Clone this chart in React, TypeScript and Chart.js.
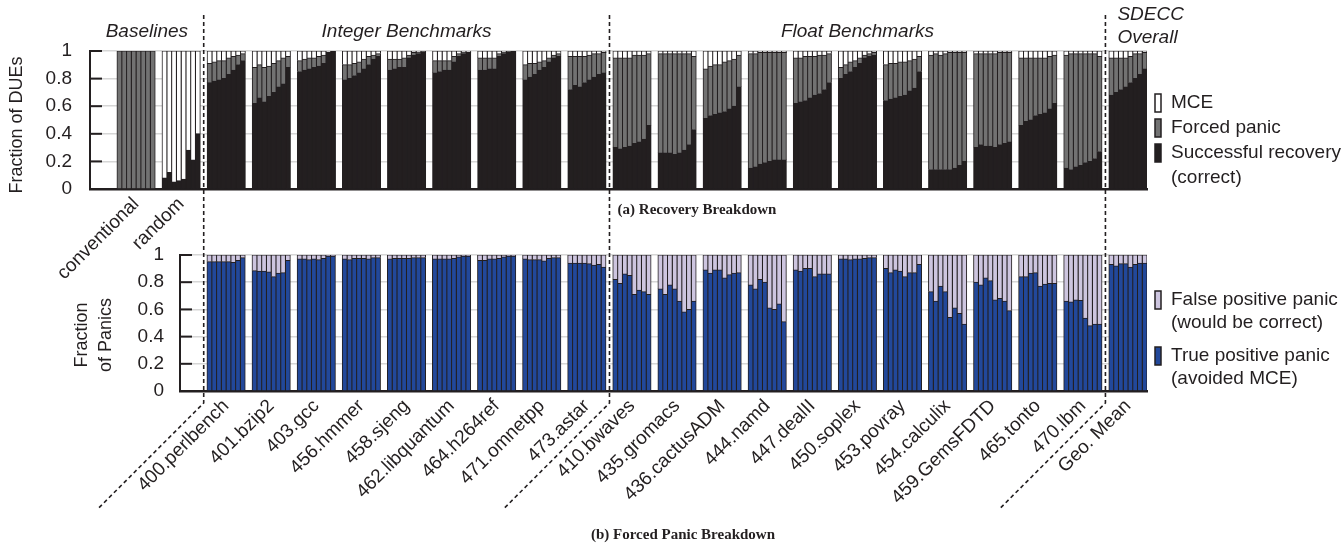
import React, { useEffect, useRef } from 'react';
import { Chart, registerables } from 'chart.js';

Chart.register(...registerables);

// ---------------- data ----------------
const groupNames = [
  'conventional', 'random', '400.perlbench', '401.bzip2', '403.gcc', '456.hmmer', '458.sjeng',
  '462.libquantum', '464.h264ref', '471.omnetpp', '473.astar', '410.bwaves', '435.gromacs',
  '436.cactusADM', '444.namd', '447.dealII', '450.soplex', '453.povray', '454.calculix',
  '459.GemsFDTD', '465.tonto', '470.lbm', 'Geo. Mean',
];
const recoveryTickGroups = [0, 1];
const panicFirstGroup = 2;
const barsPerGroup = 8;

// (a) fraction of DUEs: successful recovery (bottom, black)
const recoveryCorrect: number[][] = [
  [0, 0, 0, 0, 0, 0, 0, 0],
  [0.08, 0.12, 0.05, 0.06, 0.07, 0.28, 0.21, 0.40],
  [0.77, 0.78, 0.79, 0.80, 0.83, 0.86, 0.90, 0.93],
  [0.62, 0.66, 0.63, 0.67, 0.70, 0.74, 0.76, 0.88],
  [0.85, 0.86, 0.87, 0.88, 0.89, 0.91, 0.99, 1.0],
  [0.79, 0.80, 0.82, 0.84, 0.87, 0.90, 0.94, 0.96],
  [0.86, 0.87, 0.88, 0.88, 0.95, 0.97, 0.98, 0.99],
  [0.84, 0.85, 0.86, 0.86, 0.92, 0.96, 0.98, 0.99],
  [0.86, 0.86, 0.87, 0.87, 0.96, 0.98, 0.99, 1.0],
  [0.79, 0.81, 0.83, 0.86, 0.88, 0.92, 0.95, 0.96],
  [0.72, 0.75, 0.74, 0.77, 0.79, 0.81, 0.83, 0.84],
  [0.30, 0.29, 0.30, 0.31, 0.33, 0.34, 0.36, 0.46],
  [0.26, 0.26, 0.26, 0.25, 0.26, 0.28, 0.32, 0.43],
  [0.51, 0.53, 0.54, 0.55, 0.56, 0.58, 0.60, 0.74],
  [0.15, 0.16, 0.18, 0.19, 0.20, 0.21, 0.21, 0.21],
  [0.62, 0.63, 0.64, 0.66, 0.68, 0.69, 0.72, 0.77],
  [0.80, 0.83, 0.85, 0.88, 0.91, 0.95, 0.96, 0.97],
  [0.64, 0.65, 0.66, 0.67, 0.68, 0.71, 0.73, 0.85],
  [0.14, 0.14, 0.14, 0.14, 0.14, 0.15, 0.17, 0.20],
  [0.30, 0.32, 0.31, 0.31, 0.30, 0.32, 0.33, 0.34],
  [0.46, 0.49, 0.50, 0.53, 0.54, 0.55, 0.58, 0.62],
  [0.15, 0.14, 0.16, 0.17, 0.19, 0.20, 0.22, 0.27],
  [0.68, 0.70, 0.72, 0.74, 0.77, 0.80, 0.83, 0.87],
];

// (a) fraction of DUEs: MCE (top, white)
const recoveryMce: number[][] = [
  [0, 0, 0, 0, 0, 0, 0, 0],
  [0.92, 0.88, 0.95, 0.94, 0.93, 0.72, 0.79, 0.60],
  [0.09, 0.08, 0.07, 0.07, 0.05, 0.04, 0.03, 0.02],
  [0.12, 0.10, 0.12, 0.11, 0.09, 0.07, 0.05, 0.04],
  [0.07, 0.06, 0.05, 0.05, 0.04, 0.03, 0.01, 0.0],
  [0.10, 0.10, 0.09, 0.08, 0.06, 0.04, 0.03, 0.02],
  [0.06, 0.06, 0.06, 0.05, 0.03, 0.01, 0.01, 0.0],
  [0.07, 0.07, 0.07, 0.07, 0.04, 0.02, 0.01, 0.01],
  [0.05, 0.05, 0.05, 0.05, 0.02, 0.01, 0.0, 0.0],
  [0.10, 0.09, 0.09, 0.08, 0.07, 0.05, 0.03, 0.02],
  [0.04, 0.04, 0.04, 0.04, 0.03, 0.02, 0.02, 0.01],
  [0.05, 0.05, 0.05, 0.05, 0.03, 0.03, 0.03, 0.02],
  [0.02, 0.02, 0.02, 0.02, 0.02, 0.02, 0.02, 0.04],
  [0.13, 0.11, 0.10, 0.10, 0.08, 0.07, 0.06, 0.03],
  [0.02, 0.02, 0.01, 0.01, 0.01, 0.01, 0.01, 0.01],
  [0.05, 0.05, 0.04, 0.04, 0.04, 0.03, 0.03, 0.02],
  [0.12, 0.10, 0.08, 0.07, 0.05, 0.03, 0.02, 0.01],
  [0.10, 0.09, 0.09, 0.08, 0.08, 0.07, 0.06, 0.04],
  [0.03, 0.02, 0.03, 0.02, 0.01, 0.01, 0.01, 0.01],
  [0.02, 0.02, 0.02, 0.02, 0.02, 0.01, 0.01, 0.01],
  [0.05, 0.05, 0.05, 0.05, 0.05, 0.05, 0.04, 0.03],
  [0.03, 0.02, 0.02, 0.02, 0.02, 0.02, 0.02, 0.04],
  [0.05, 0.05, 0.05, 0.05, 0.04, 0.02, 0.02, 0.01],
];

// (b) fraction of panics: true positive (bottom, blue); groups from 400.perlbench on
const panicTruePositive: number[][] = [
  [0.95, 0.95, 0.95, 0.95, 0.95, 0.945, 0.96, 0.98],
  [0.885, 0.88, 0.88, 0.875, 0.84, 0.865, 0.87, 0.96],
  [0.97, 0.97, 0.965, 0.97, 0.965, 0.975, 0.99, 0.99],
  [0.97, 0.965, 0.975, 0.975, 0.975, 0.97, 0.98, 0.98],
  [0.97, 0.975, 0.975, 0.975, 0.975, 0.98, 0.98, 0.98],
  [0.97, 0.97, 0.97, 0.97, 0.975, 0.985, 0.99, 0.99],
  [0.96, 0.96, 0.97, 0.97, 0.975, 0.985, 0.99, 0.99],
  [0.97, 0.965, 0.965, 0.965, 0.955, 0.975, 0.98, 0.98],
  [0.94, 0.94, 0.94, 0.94, 0.935, 0.925, 0.93, 0.91],
  [0.82, 0.79, 0.86, 0.85, 0.71, 0.74, 0.73, 0.71],
  [0.75, 0.71, 0.78, 0.75, 0.66, 0.58, 0.60, 0.66],
  [0.89, 0.865, 0.89, 0.89, 0.83, 0.855, 0.865, 0.87],
  [0.78, 0.75, 0.82, 0.80, 0.61, 0.60, 0.64, 0.51],
  [0.89, 0.88, 0.90, 0.90, 0.84, 0.86, 0.86, 0.86],
  [0.97, 0.97, 0.965, 0.97, 0.97, 0.975, 0.98, 0.98],
  [0.90, 0.87, 0.89, 0.88, 0.84, 0.87, 0.87, 0.93],
  [0.73, 0.66, 0.77, 0.73, 0.54, 0.61, 0.57, 0.49],
  [0.80, 0.78, 0.83, 0.81, 0.67, 0.68, 0.66, 0.59],
  [0.84, 0.84, 0.865, 0.87, 0.77, 0.785, 0.79, 0.79],
  [0.66, 0.655, 0.67, 0.665, 0.535, 0.48, 0.49, 0.49],
  [0.93, 0.92, 0.935, 0.935, 0.91, 0.93, 0.94, 0.94],
];

const yTickValues = [0, 0.2, 0.4, 0.6, 0.8, 1];
const sectionTitles = ['Baselines', 'Integer Benchmarks', 'Float Benchmarks'];
const overallTitle = ['SDECC', 'Overall'];
const sectionBreaks = [1.5, 10.5, 21.5];
const recoveryYTitle = 'Fraction of DUEs';
const panicYTitle = ['Fraction', 'of Panics'];
const captionA = '(a) Recovery Breakdown';
const captionB = '(b) Forced Panic Breakdown';

// ---------------- style ----------------
const INK = '#231f20';
const C = {
  correct: '#231f20',
  panic: '#727272',
  mce: '#ffffff',
  fp: '#cdc5df',
  tp: '#22489a',
};
const SANS = '"Liberation Sans", Arial, Helvetica, sans-serif';
const SERIF = '"Liberation Serif", "Times New Roman", serif';

const recoveryLegend = [
  { text: ['MCE'], fill: C.mce },
  { text: ['Forced panic'], fill: C.panic },
  { text: ['Successful recovery', '(correct)'], fill: C.correct },
];
const panicLegend = [
  { text: ['False positive panic', '(would be correct)'], fill: C.fp },
  { text: ['True positive panic', '(avoided MCE)'], fill: C.tp },
];

Chart.defaults.font.family = SANS;
Chart.defaults.font.size = 19;
Chart.defaults.color = INK;

const X_LEFT_PAD = 1.022; // category units before first group
const X_RIGHT_PAD = 0.422;
const LAST = groupNames.length - 1;

function round3(v: number) {
  return Math.round(v * 1000) / 1000;
}

function drawInwardTicks(chart: any) {
  const { ctx, chartArea, scales } = chart;
  const y = scales.y;
  ctx.save();
  ctx.strokeStyle = INK;
  ctx.lineWidth = 2;
  y.ticks.forEach((t: any) => {
    const py = y.getPixelForValue(t.value);
    ctx.beginPath();
    ctx.moveTo(chartArea.left, py);
    ctx.lineTo(chartArea.left + 12, py);
    ctx.stroke();
  });
  ctx.restore();
}

function drawLegend(ctx: CanvasRenderingContext2D, items: { text: string[]; fill: string }[], x: number, y0: number, lineH: number, gap: number) {
  ctx.save();
  ctx.font = `19px ${SANS}`;
  ctx.textBaseline = 'middle';
  ctx.textAlign = 'left';
  let y = y0;
  items.forEach((item) => {
    ctx.fillStyle = item.fill;
    ctx.fillRect(x, y - 9, 6, 18);
    ctx.strokeStyle = INK;
    ctx.lineWidth = 1.5;
    ctx.strokeRect(x, y - 9, 6, 18);
    ctx.fillStyle = INK;
    item.text.forEach((line, j) => ctx.fillText(line, x + 16, y + j * lineH));
    y += item.text.length * lineH + gap;
  });
  ctx.restore();
}

function drawRotatedTitle(ctx: CanvasRenderingContext2D, lines: string[], x: number, y: number, lineH: number) {
  ctx.save();
  ctx.font = `18px ${SANS}`;
  ctx.fillStyle = INK;
  ctx.textAlign = 'center';
  ctx.textBaseline = 'middle';
  lines.forEach((line, i) => {
    ctx.save();
    ctx.translate(x + i * lineH, y);
    ctx.rotate(-Math.PI / 2);
    ctx.fillText(line, 0, 0);
    ctx.restore();
  });
  ctx.restore();
}

const topDecor = {
  id: 'topDecor',
  afterDraw(chart: any) {
    const { ctx, chartArea, scales } = chart;
    const x = scales.x;
    drawInwardTicks(chart);
    drawRotatedTitle(ctx, [recoveryYTitle], 17, 125, 24);

    // separators
    const seps = sectionBreaks.map((v) => x.getPixelForValue(v));
    ctx.save();
    ctx.strokeStyle = INK;
    ctx.lineWidth = 1.6;
    ctx.setLineDash([4, 3]);
    seps.forEach((px) => {
      ctx.beginPath();
      ctx.moveTo(px, 15);
      ctx.lineTo(px, 403);
      ctx.lineTo(px - 105, 508);
      ctx.stroke();
    });
    ctx.restore();

    // section titles
    ctx.save();
    ctx.font = `italic 19px ${SANS}`;
    ctx.fillStyle = INK;
    ctx.textBaseline = 'middle';
    ctx.textAlign = 'center';
    const bounds = [chartArea.left, ...seps];
    sectionTitles.forEach((t, i) => {
      ctx.fillText(t, (bounds[i] + bounds[i + 1]) / 2, 32);
    });
    ctx.textAlign = 'left';
    overallTitle.forEach((t, i) => ctx.fillText(t, seps[2] + 12, 15 + i * 23));
    ctx.restore();

    // caption
    ctx.save();
    ctx.font = `bold 15px ${SERIF}`;
    ctx.fillStyle = INK;
    ctx.textAlign = 'center';
    ctx.textBaseline = 'middle';
    ctx.fillText(captionA, 697, 210);
    ctx.restore();

    drawLegend(ctx, recoveryLegend, chartArea.right + 8, chartArea.top + 52, 25, 0);
  },
};

const bottomDecor = {
  id: 'bottomDecor',
  afterDraw(chart: any) {
    const { ctx, chartArea } = chart;
    drawInwardTicks(chart);
    drawRotatedTitle(ctx, panicYTitle, 82, 335, 24);
    ctx.save();
    ctx.font = `bold 15px ${SERIF}`;
    ctx.fillStyle = INK;
    ctx.textAlign = 'center';
    ctx.textBaseline = 'middle';
    ctx.fillText(captionB, 683, 535);
    ctx.restore();
    drawLegend(ctx, panicLegend, chartArea.right + 8, chartArea.top + 45, 23, 10);
  },
};

function yScale(width: number, pad: number) {
  return {
    min: 0,
    max: 1,
    afterBuildTicks: (s: any) => {
      s.ticks = yTickValues.map((v) => ({ value: v }));
    },
    afterFit: (s: any) => {
      s.width = width;
    },
    ticks: {
      padding: pad,
      color: INK,
      font: { size: 19 },
      callback: (v: any) => String(Math.round(Number(v) * 10) / 10),
    },
    grid: { color: '#d6d6d6', lineWidth: 1.5, drawTicks: false },
    border: { color: INK, width: 2 },
  };
}

function xScale(min: number, tickValues: number[], height: number) {
  return {
    type: 'linear' as const,
    offset: false,
    bounds: 'data' as const,
    min,
    max: LAST + X_RIGHT_PAD,
    afterBuildTicks: (s: any) => {
      s.ticks = tickValues.map((v) => ({ value: v }));
    },
    afterFit: (s: any) => {
      s.height = height;
    },
    ticks: {
      autoSkip: false,
      minRotation: 45,
      maxRotation: 45,
      padding: 4,
      color: INK,
      font: { size: 19 },
      callback: (v: any) => groupNames[Math.round(Number(v))] ?? '',
    },
    grid: { display: false, drawTicks: false, offset: false },
    border: { color: INK, width: 2.5 },
  };
}

function finishDatasets(datasets: any[]) {
  datasets.forEach((d) => {
    d.borderColor = INK;
    d.borderWidth = 1;
    d.categoryPercentage = 38 / 45;
    d.barPercentage = 1;
    d.inflateAmount = 0.5;
  });
}

function buildTopConfig(): any {
  const datasets: any[] = [];
  for (let k = 0; k < barsPerGroup; k++) {
    const stack = 'b' + k;
    datasets.push({
      label: 'Successful recovery (correct)',
      data: groupNames.map((_, i) => ({ x: i, y: recoveryCorrect[i][k] })),
      backgroundColor: C.correct,
      stack,
    });
    datasets.push({
      label: 'Forced panic',
      data: groupNames.map((_, i) => ({ x: i, y: round3(Math.max(0, 1 - recoveryCorrect[i][k] - recoveryMce[i][k])) })),
      backgroundColor: C.panic,
      stack,
    });
    datasets.push({
      label: 'MCE',
      data: groupNames.map((_, i) => ({ x: i, y: recoveryMce[i][k] })),
      backgroundColor: C.mce,
      stack,
    });
  }
  finishDatasets(datasets);
  return {
    type: 'bar',
    data: { datasets },
    options: {
      responsive: false,
      animation: false,
      devicePixelRatio: 1,
      layout: { padding: { top: 51, right: 197, left: 0, bottom: 0 } },
      plugins: { legend: { display: false }, tooltip: { enabled: false } },
      scales: {
        x: xScale(-X_LEFT_PAD, recoveryTickGroups, 543 - 189),
        y: { ...yScale(90, 18), stacked: true },
      },
    },
    plugins: [topDecor],
  };
}

function buildBottomConfig(): any {
  const datasets: any[] = [];
  const idx = panicTruePositive.map((_, j) => j + panicFirstGroup);
  for (let k = 0; k < barsPerGroup; k++) {
    const stack = 'b' + k;
    datasets.push({
      label: 'True positive panic (avoided MCE)',
      data: idx.map((g, j) => ({ x: g, y: panicTruePositive[j][k] })),
      backgroundColor: C.tp,
      stack,
    });
    datasets.push({
      label: 'False positive panic (would be correct)',
      data: idx.map((g, j) => ({ x: g, y: round3(1 - panicTruePositive[j][k]) })),
      backgroundColor: C.fp,
      stack,
    });
  }
  finishDatasets(datasets);
  return {
    type: 'bar',
    data: { datasets },
    options: {
      responsive: false,
      animation: false,
      devicePixelRatio: 1,
      layout: { padding: { top: 255, right: 197, left: 0, bottom: 0 } },
      plugins: { legend: { display: false }, tooltip: { enabled: false } },
      scales: {
        x: xScale(panicFirstGroup - X_LEFT_PAD, idx, 543 - 391),
        y: { ...yScale(180, 16), stacked: true },
      },
    },
    plugins: [bottomDecor],
  };
}

export default function App() {
  const topRef = useRef<HTMLCanvasElement>(null);
  const botRef = useRef<HTMLCanvasElement>(null);
  useEffect(() => {
    const top = new Chart(topRef.current as HTMLCanvasElement, buildTopConfig());
    const bot = new Chart(botRef.current as HTMLCanvasElement, buildBottomConfig());
    return () => {
      top.destroy();
      bot.destroy();
    };
  }, []);
  const cs: React.CSSProperties = { position: 'absolute', left: 0, top: 0, width: 1344, height: 543 };
  return (
    <div style={{ position: 'fixed', left: 0, top: 0, width: 1344, height: 543, background: '#ffffff' }}>
      <canvas ref={botRef} width={1344} height={543} style={cs} />
      <canvas ref={topRef} width={1344} height={543} style={{ ...cs, zIndex: 2 }} />
    </div>
  );
}
